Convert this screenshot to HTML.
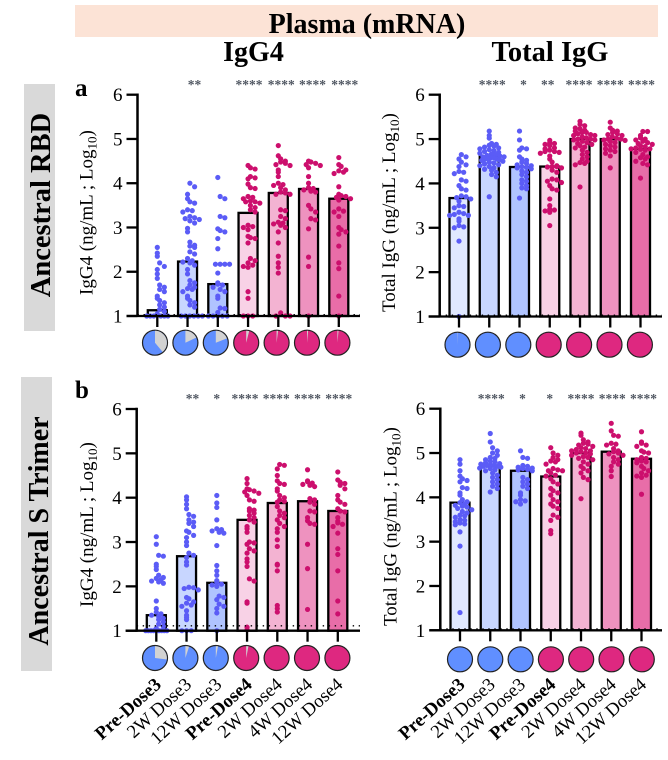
<!DOCTYPE html>
<html lang="en">
<head>
<meta charset="utf-8">
<title>Plasma (mRNA) IgG4 and Total IgG</title>
<style>
html,body{margin:0;padding:0;background:#fff}
svg{display:block}
text{font-family:"Liberation Serif",serif;fill:#000}
</style>
</head>
<body>
<svg id="chart" xmlns="http://www.w3.org/2000/svg" width="668" height="760" viewBox="0 0 668 760">
  <rect x="75" y="5" width="583" height="32" fill="#fce3d6"/>
  <text x="367" y="33" font-size="28" font-weight="bold" text-anchor="middle">Plasma (mRNA)</text>
  <text x="253.5" y="61" font-size="28" font-weight="bold" text-anchor="middle">IgG4</text>
  <text x="550" y="61" font-size="28.5" font-weight="bold" text-anchor="middle">Total IgG</text>
  <rect x="24" y="84" width="31" height="247" fill="#d9d9d9"/>
  <text transform="translate(50 205) rotate(-90)" font-size="28.5" font-weight="bold" text-anchor="middle">Ancestral RBD</text>
  <rect x="21" y="377" width="31" height="294" fill="#d9d9d9"/>
  <text transform="translate(48 531) rotate(-90)" font-size="28" font-weight="bold" text-anchor="middle">Ancestral S Trimer</text>
  <text x="75" y="96" font-size="25" font-weight="bold">a</text>
  <text x="75" y="398" font-size="25" font-weight="bold">b</text>
  <g id="panels"></g>
</svg>
<script>
const categories = ["Pre-Dose3","2W Dose3","12W Dose3","Pre-Dose4","2W Dose4","4W Dose4","12W Dose4"];
const yTicks = [1,2,3,4,5,6];
const barFills = ["#e0e8ff","#c8d6ff","#b0c4ff","#f8d2e6","#f3b3d2","#ee92bf","#e86da8"];

const rbdIgG4Bars = [1.13,2.23,1.72,3.33,3.78,3.87,3.65];
const rbdTotalBars = [3.67,4.6,4.37,4.38,5.0,5.0,4.78];
const trimerIgG4Bars = [1.35,2.68,2.08,3.5,3.88,3.92,3.7];
const trimerTotalBars = [3.88,4.7,4.6,4.47,5.0,5.03,4.87];

const rbdIgG4Stars = ["","**","","****","****","****","****"];
const rbdTotalStars = ["","****","*","**","****","****","****"];
const trimerIgG4Stars = ["","**","*","****","****","****","****"];
const trimerTotalStars = ["","****","*","*","****","****","****"];

const rbdIgG4Gray = [0.39,0.18,0.19,0.04,0.02,0.015,0.015];
const rbdTotalGray = [0.005,0,0,0,0,0,0];
const trimerIgG4Gray = [0.27,0.05,0.03,0.03,0,0,0];
const trimerTotalGray = [0,0,0,0,0,0,0];

const rbdIgG4Dots = [
 [1,1,1,1,1,1,1.05,1.1,1.15,1.2,1.25,1.3,1.35,1.4,1.45,1.55,1.6,1.65,1.7,1.85,1.95,2.05,2.12,2.2,2.35,2.42,2.55],
 [4.0,3.92,3.75,3.65,3.58,3.55,3.4,3.38,3.35,3.25,3.22,3.2,3.18,3.15,3.1,2.98,2.9,2.67,2.6,2.58,2.55,2.45,2.4,2.3,2.25,2.22,2.2,2.15,2.05,1.95,1.8,1.75,1.7,1.65,1.62,1.6,1.55,1.45,1.4,1.35,1.3,1.25,1.2,1,1,1,1,1,1],
 [4.13,3.7,3.65,3.25,3.22,2.97,2.93,2.9,2.75,2.52,2.17,2.17,2.17,2.17,1.97,1.75,1.72,1.7,1.65,1.6,1.55,1.45,1.4,1.18,1.17,1.08,1,1,1,1,1],
 [4.4,4.35,4.32,4.15,4.12,4.1,3.98,3.9,3.88,3.7,3.68,3.65,3.6,3.58,3.58,3.55,3.5,3.45,3.4,3.35,3.05,3.02,3.0,2.95,2.8,2.77,2.75,2.65,2.3,2.25,2.2,2.15,2.12,2.1,1.55,1.4,1,1,1],
 [4.85,4.62,4.55,4.5,4.48,4.45,4.42,4.4,4.3,4.25,4.15,4.0,3.97,3.95,3.9,3.85,3.8,3.78,3.75,3.75,3.4,3.38,3.25,3.2,3.12,3.1,3.08,3.05,3.0,2.9,2.65,2.35,2.2,2.1,1.97,1.07,1,1,1],
 [4.5,4.48,4.45,4.42,4.4,4.35,4.15,4.0,3.9,3.88,3.85,3.82,3.8,3.5,3.42,3.35,3.2,3.17,2.97,2.33,2.12,1],
 [4.58,4.42,4.38,4.3,4.28,4.25,4.22,3.92,3.75,3.72,3.7,3.68,3.65,3.62,3.42,3.37,3.35,3.25,3.0,2.95,2.9,2.85,2.58,2.2,2.07,1.45,1]
];
const rbdTotalDots = [
 [4.65,4.6,4.55,4.48,4.42,4.38,4.27,4.25,4.22,4.08,4.05,3.95,3.88,3.85,3.72,3.7,3.68,3.65,3.6,3.5,3.48,3.45,3.35,3.32,3.3,3.28,3.28,3.2,3.15,3.05,3.02,3.0,2.7,1],
 [5.18,5.08,5.02,4.9,4.88,4.86,4.84,4.82,4.8,4.78,4.76,4.74,4.72,4.7,4.68,4.66,4.65,4.63,4.62,4.6,4.6,4.58,4.58,4.56,4.55,4.55,4.53,4.52,4.5,4.48,4.46,4.44,4.42,4.4,4.38,4.35,4.32,4.3,4.25,4.2,4.15,3.7],
 [5.18,4.98,4.8,4.78,4.75,4.6,4.55,4.52,4.48,4.45,4.42,4.4,4.38,4.36,4.35,4.33,4.28,4.25,4.2,4.15,4.08,4.05,4.0,3.95,3.9,3.88,3.67],
 [4.97,4.92,4.9,4.88,4.85,4.8,4.78,4.75,4.72,4.72,4.7,4.68,4.62,4.55,4.48,4.4,4.38,4.38,4.37,4.35,4.3,4.25,4.1,4.08,4.05,4.02,3.95,3.88,3.85,3.65,3.5,3.42,3.4,3.38,3.35,3.05],
 [5.4,5.33,5.3,5.25,5.23,5.2,5.18,5.15,5.15,5.12,5.1,5.08,5.08,5.05,5.03,5.0,5.0,4.98,4.98,4.95,4.92,4.9,4.88,4.85,4.82,4.8,4.75,4.7,4.65,4.6,4.55,4.5,4.47,4.45,4.42,3.92],
 [5.38,5.25,5.2,5.18,5.15,5.12,5.1,5.08,5.05,5.02,5.0,5.0,4.98,4.97,4.95,4.92,4.88,4.85,4.82,4.78,4.75,4.72,4.68,4.62,4.35],
 [5.17,5.17,5.08,5.03,5.0,4.98,4.95,4.92,4.9,4.88,4.85,4.83,4.8,4.78,4.78,4.77,4.75,4.7,4.65,4.6,4.58,4.55,4.5,4.45,4.42,4.12]
];
const trimerIgG4Dots = [
 [3.12,2.95,2.7,2.68,2.5,2.45,2.38,2.25,2.2,2.18,2.15,2.12,2.1,2.07,1.67,1.5,1.42,1.38,1.35,1.32,1.28,1.25,1.2,1.15,1.1,1.05,1,1,1,1,1,1,1,1],
 [4.02,3.95,3.85,3.75,3.62,3.58,3.5,3.45,3.42,3.35,3.25,3.22,3.15,3.1,3.0,2.92,2.75,2.7,2.65,2.55,2.48,1.98,1.97,1.95,1.92,1.75,1.72,1.65,1.62,1.58,1.55,1.45,1.35,1.3,1.25,1,1,1],
 [4.05,3.88,3.78,3.5,3.3,3.28,3.25,3.22,3.2,2.92,2.47,2.35,2.25,2.13,2.08,2.05,2.03,2.0,1.78,1.75,1.7,1.6,1.55,1.5,1.4,1],
 [4.43,4.32,4.2,4.18,4.15,4.13,4.1,4.05,3.95,3.92,3.75,3.72,3.7,3.65,3.6,3.55,3.5,3.45,3.35,3.3,3.22,3.0,2.98,2.95,2.85,2.8,2.75,2.62,2.55,2.45,2.17,2.12,1.65,1.62,1.08,1.02],
 [4.75,4.73,4.65,4.5,4.38,4.32,4.3,4.2,4.15,4.05,4.0,3.95,3.92,3.9,3.8,3.7,3.65,3.6,3.55,3.5,3.42,3.35,3.3,3.22,3.05,2.9,2.5,2.48,2.35,1.57,1.5,1.42],
 [4.63,4.38,4.36,4.33,4.3,4.28,4.25,3.98,3.95,3.9,3.85,3.7,3.68,3.55,3.48,3.42,3.4,2.95,2.4,1.48],
 [4.58,4.4,4.35,4.32,4.28,4.2,4.05,3.95,3.9,3.85,3.75,3.7,3.68,3.55,3.47,3.43,3.4,3.35,3.2,2.85,2.72,2.35,1.67,1.38]
];
const trimerTotalDots = [
 [4.85,4.75,4.6,4.48,4.42,4.38,4.35,4.22,4.2,4.1,4.05,3.95,3.9,3.88,3.85,3.82,3.8,3.78,3.75,3.72,3.68,3.65,3.6,3.58,3.55,3.5,3.48,3.45,3.42,3.4,3.38,3.22,2.9,1.4],
 [5.44,5.25,5.12,5.05,5.0,4.95,4.9,4.88,4.85,4.82,4.8,4.78,4.76,4.75,4.74,4.72,4.72,4.7,4.7,4.68,4.66,4.65,4.62,4.6,4.55,4.5,4.45,4.4,4.35,4.3,4.25,4.2,4.12],
 [5.05,4.9,4.88,4.72,4.7,4.68,4.66,4.65,4.63,4.62,4.6,4.45,4.4,4.35,4.3,4.25,4.2,4.1,4.05,3.95,3.92,3.9,3.85],
 [5.12,5.0,4.95,4.9,4.85,4.82,4.8,4.75,4.65,4.62,4.6,4.6,4.55,4.5,4.48,4.42,4.35,4.3,4.2,4.15,4.1,4.05,3.95,3.9,3.85,3.8,3.75,3.6,3.55,3.48,3.25,3.18],
 [5.45,5.4,5.3,5.25,5.22,5.2,5.18,5.15,5.12,5.1,5.08,5.05,5.05,5.03,5.0,5.0,4.98,4.95,4.92,4.9,4.88,4.85,4.8,4.75,4.7,4.65,4.6,4.55,4.45,4.4,3.97],
 [5.67,5.5,5.4,5.38,5.22,5.2,5.18,5.1,5.05,5.03,5.0,4.98,4.95,4.9,4.85,4.8,4.75,4.7,4.6,4.47],
 [5.48,5.25,5.22,5.18,5.15,5.05,5.02,5.0,4.9,4.88,4.85,4.82,4.8,4.78,4.7,4.65,4.6,4.55,4.5,4.48,4.45,4.07]
];

const panels = [
 {id:"rbd-igg4",title:"IgG4",bars:rbdIgG4Bars,dots:rbdIgG4Dots,stars:rbdIgG4Stars,gray:rbdIgG4Gray,axisX:137.5,barX0:157.3,step:30.25,top:94.7,base:316,right:360,starY:89,starDx:[0,7,0,1,3,4,6],pieY:342.7,pieX0:155,pieStep:30.4,ref:1.03,titleX:92.5,titleY:295,labels:false},
 {id:"rbd-total",title:"Total IgG",bars:rbdTotalBars,dots:rbdTotalDots,stars:rbdTotalStars,gray:rbdTotalGray,axisX:439.7,barX0:459,step:30.25,top:94.7,base:316.5,right:662,starY:89,starDx:[0,3,4,-2,-1,0,1],pieY:344.7,pieX0:457.5,pieStep:30.4,ref:1.03,titleX:395,titleY:312,labels:false},
 {id:"trimer-igg4",title:"IgG4",bars:trimerIgG4Bars,dots:trimerIgG4Dots,stars:trimerIgG4Stars,gray:trimerIgG4Gray,axisX:136.7,barX0:156.3,step:30.25,top:409,base:630.7,right:360,starY:403,starDx:[0,6,0,-2,-1,0,1],pieY:658,pieX0:155,pieStep:30.4,ref:1.11,titleX:93,titleY:607,labels:true},
 {id:"trimer-total",title:"Total IgG",bars:trimerTotalBars,dots:trimerTotalDots,stars:trimerTotalStars,gray:trimerTotalGray,axisX:440.3,barX0:460,step:30.25,top:408.7,base:630.3,right:662,starY:403,starDx:[0,1,2,-1,0,1,2],pieY:659.3,pieX0:460,pieStep:30.3,ref:1.03,titleX:396.5,titleY:626,labels:true}
];

const NS = "http://www.w3.org/2000/svg";
function mk(tag, parent){
  const el = document.createElementNS(NS, tag);
  parent.appendChild(el);
  return el;
}
function set(el, props){
  for (const k in props) el.setAttribute(k, props[k]);
  return el;
}
// Prism-style scatter: points in the same y-bin are centred in a row around the bar.
function placeSwarm(values, yScale, spacing, limit, binSize){
  const bins = new Map();
  values.forEach(v => {
    const py = yScale(v);
    const key = Math.round(py / binSize);
    if (!bins.has(key)) bins.set(key, []);
    bins.get(key).push(py);
  });
  const placed = [];
  bins.forEach(list => {
    const n = list.length;
    const s = n > 1 ? Math.min(spacing, 2 * limit / (n - 1)) : 0;
    list.sort((a,b)=>a-b).forEach((py, k) => {
      const slot = (k % 2 ? 1 : -1) * Math.ceil(k / 2);
      const centre = n % 2 ? 0 : s / 2;
      placed.push({dx: centre + slot * s, py: py});
    });
  });
  return placed;
}
function piePath(cx, cy, r, frac){
  const a = frac * 2 * Math.PI;
  const x = cx + r * Math.sin(a), y = cy - r * Math.cos(a);
  return "M"+cx+" "+cy+"L"+cx+" "+(cy-r)+"A"+r+" "+r+" 0 "+(frac>0.5?1:0)+" 1 "+x+" "+y+"Z";
}

const root = document.getElementById("panels");
panels.forEach(p => {
  const g = mk("g", root);
  
  
  const y = v => p.base - (v - 1) * (p.base - p.top) / 5;
  const x = i => p.barX0 + i * p.step;

  p.bars.forEach((v, i) => {
    const b = mk("rect", g);
    
    
    set(b, {x:x(i)-9.5, y:y(v), width:19, height:p.base-y(v), fill:barFills[i], stroke:"#000", "stroke-width":2.3});
  });

  p.dots.forEach((vals, i) => {
    const color = i < 3 ? "#5b5cf6" : "#cc0f6d";
    placeSwarm(vals, y, 4.7, 10.6, 4.2).forEach(d => {
      const c = mk("circle", g);
      
      
      set(c, {cx:x(i)+d.dx, cy:d.py, r:2.6, fill:color});
    });
  });

  const ref = mk("line", g);
  
  
  set(ref, {x1:p.axisX, x2:p.right, y1:y(p.ref), y2:y(p.ref), stroke:"#000", "stroke-width":1.4, "stroke-dasharray":"1.4 4.6"});

  const yAxis = mk("line", g);
  
  
  set(yAxis, {x1:p.axisX, x2:p.axisX, y1:p.top-1.2, y2:p.base+1, stroke:"#000", "stroke-width":2.5});

  const xAxis = mk("line", g);
  
  
  set(xAxis, {x1:p.axisX-11, x2:p.right, y1:p.base, y2:p.base, stroke:"#000", "stroke-width":2.3});

  yTicks.forEach(t => {
    const tk = mk("line", g);
    
    
    set(tk, {x1:p.axisX-11, x2:p.axisX, y1:y(t), y2:y(t), stroke:"#000", "stroke-width":2.3});
    const lb = mk("text", g);
    
    
    set(lb, {x:p.axisX-15, y:y(t)+6.5, "font-size":19, "text-anchor":"end"});
    lb.textContent = t;
  });

  const yt = mk("text", g);
  
  
  set(yt, {transform:"translate("+p.titleX+" "+p.titleY+") rotate(-90)", "font-size":19});
  yt.appendChild(document.createTextNode(p.title + " (ng/mL ; Log"));
  const sub = mk("tspan", yt);
  set(sub, {dy:4, "font-size":13});
  sub.textContent = "10";
  const close = mk("tspan", yt);
  set(close, {dy:-4});
  close.textContent = ")";

  categories.forEach((name, i) => {
    const tk = mk("line", g);
    
    
    set(tk, {x1:x(i), x2:x(i), y1:p.base, y2:p.base+11, stroke:"#000", "stroke-width":2.3});

    if (p.stars[i]){
      const s = mk("text", g);
      
      
      set(s, {x:x(i)+p.starDx[i], y:p.starY, "font-size":13.5, "font-weight":"bold", "text-anchor":"middle", style:"fill:#4f5661"});
      s.textContent = p.stars[i];
    }

    const cx = p.pieX0 + i * p.pieStep;
    const full = mk("circle", g);
    
    
    set(full, {cx:cx, cy:p.pieY, r:12.5, fill:i < 3 ? "#608fff" : "#de2880", stroke:"#222", "stroke-width":1.2});
    if (p.gray[i] > 0){
      const w = mk("path", g);
      
      
      set(w, {d:piePath(cx, p.pieY, 11.9, p.gray[i]), fill:"#d2d2d2"});
    }

    if (p.labels){
      const l = mk("text", g);
      
      
      set(l, {transform:"translate("+(x(i)+6)+" 686) rotate(-42)", "font-size":18.7, "text-anchor":"end", "font-weight":(i===0||i===3)?"bold":"normal"});
      l.textContent = name;
    }
  });
});
</script>
</body>
</html>
